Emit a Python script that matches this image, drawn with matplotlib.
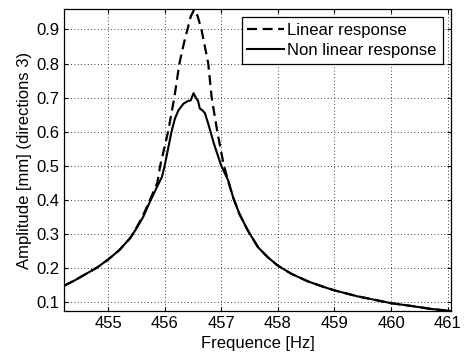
import numpy as np
import matplotlib.pyplot as plt

plt.rcParams['font.family'] = ['Liberation Sans', 'DejaVu Sans']

# linear response (dashed)
freq_lin = [454.22, 454.40, 454.59, 454.80, 455.00, 455.20, 455.39, 455.50, 455.62,
            455.74, 455.87, 455.92, 456.06, 456.17, 456.26, 456.34, 456.41, 456.46,
            456.52, 456.58, 456.65, 456.77, 456.83, 456.93, 457.04, 457.12, 457.21,
            457.32, 457.47, 457.65, 457.82, 458.00, 458.24, 458.53, 458.82, 459.01,
            459.41, 460.00, 460.35, 460.71, 461.06]
amp_lin = [0.148, 0.163, 0.181, 0.201, 0.225, 0.253, 0.288, 0.318, 0.355,
           0.400, 0.450, 0.500, 0.600, 0.700, 0.800, 0.860, 0.905, 0.938,
           0.958, 0.940, 0.900, 0.800, 0.700, 0.600, 0.505, 0.456, 0.407,
           0.359, 0.310, 0.261, 0.232, 0.207, 0.183, 0.161, 0.144, 0.134,
           0.117, 0.097, 0.089, 0.080, 0.074]

# non linear response (solid)
freq_nl = [454.22, 454.40, 454.59, 454.80, 455.00, 455.20, 455.39, 455.50, 455.62,
           455.74, 455.87, 455.95, 456.00, 456.12, 456.18, 456.24, 456.33, 456.41,
           456.46, 456.51, 456.55, 456.59, 456.62, 456.65, 456.71, 456.77, 456.81,
           456.87, 457.00, 457.12, 457.21, 457.32, 457.47, 457.65, 457.82, 458.00,
           458.24, 458.53, 458.82, 459.01, 459.41, 460.00, 460.35, 460.71, 461.06]
amp_nl = [0.148, 0.163, 0.181, 0.201, 0.225, 0.253, 0.288, 0.316, 0.350,
          0.395, 0.440, 0.467, 0.500, 0.600, 0.638, 0.662, 0.682, 0.690,
          0.692, 0.713, 0.700, 0.690, 0.668, 0.665, 0.655, 0.623, 0.600,
          0.565, 0.500, 0.458, 0.407, 0.359, 0.310, 0.261, 0.232, 0.207,
          0.183, 0.161, 0.144, 0.134, 0.117, 0.097, 0.089, 0.080, 0.074]

xticks = [455, 456, 457, 458, 459, 460, 461]
yticks = [0.1, 0.2, 0.3, 0.4, 0.5, 0.6, 0.7, 0.8, 0.9]

fig = plt.figure(figsize=(4.66, 3.56), dpi=100)
ax = fig.add_axes([0.1373, 0.1264, 0.8305, 0.8483])

ax.plot(freq_lin, amp_lin, color='black', lw=1.6, ls=(0, (4.5, 2.5)), label='Linear response')
ax.plot(freq_nl, amp_nl, color='black', lw=1.5, label='Non linear response')

ax.set_xlim(454.22, 461.06)
ax.set_ylim(0.074, 0.96)
ax.set_xticks(xticks)
ax.set_yticks(yticks)
ax.set_xticklabels([str(t) for t in xticks])
ax.set_yticklabels(['%.1f' % t for t in yticks])
ax.tick_params(direction='in', top=True, right=True, labelsize=12, length=3, width=0.8)
ax.grid(True, color='black', ls=(0, (1, 3)), lw=0.6)
for s in ax.spines.values():
    s.set_linewidth(0.9)

ax.set_xlabel('Frequence [Hz]', fontsize=12, labelpad=4)
ax.set_ylabel('Amplitude [mm] (directions 3)', fontsize=12, labelpad=3)

leg = ax.legend(loc='upper right', fontsize=12, frameon=True, fancybox=False,
                edgecolor='black', framealpha=1, handlelength=2.2, handletextpad=0.2,
                borderpad=0.35, labelspacing=0.28, borderaxespad=0.5)
leg.get_frame().set_linewidth(0.9)

fig.savefig('out.png', dpi=100)
